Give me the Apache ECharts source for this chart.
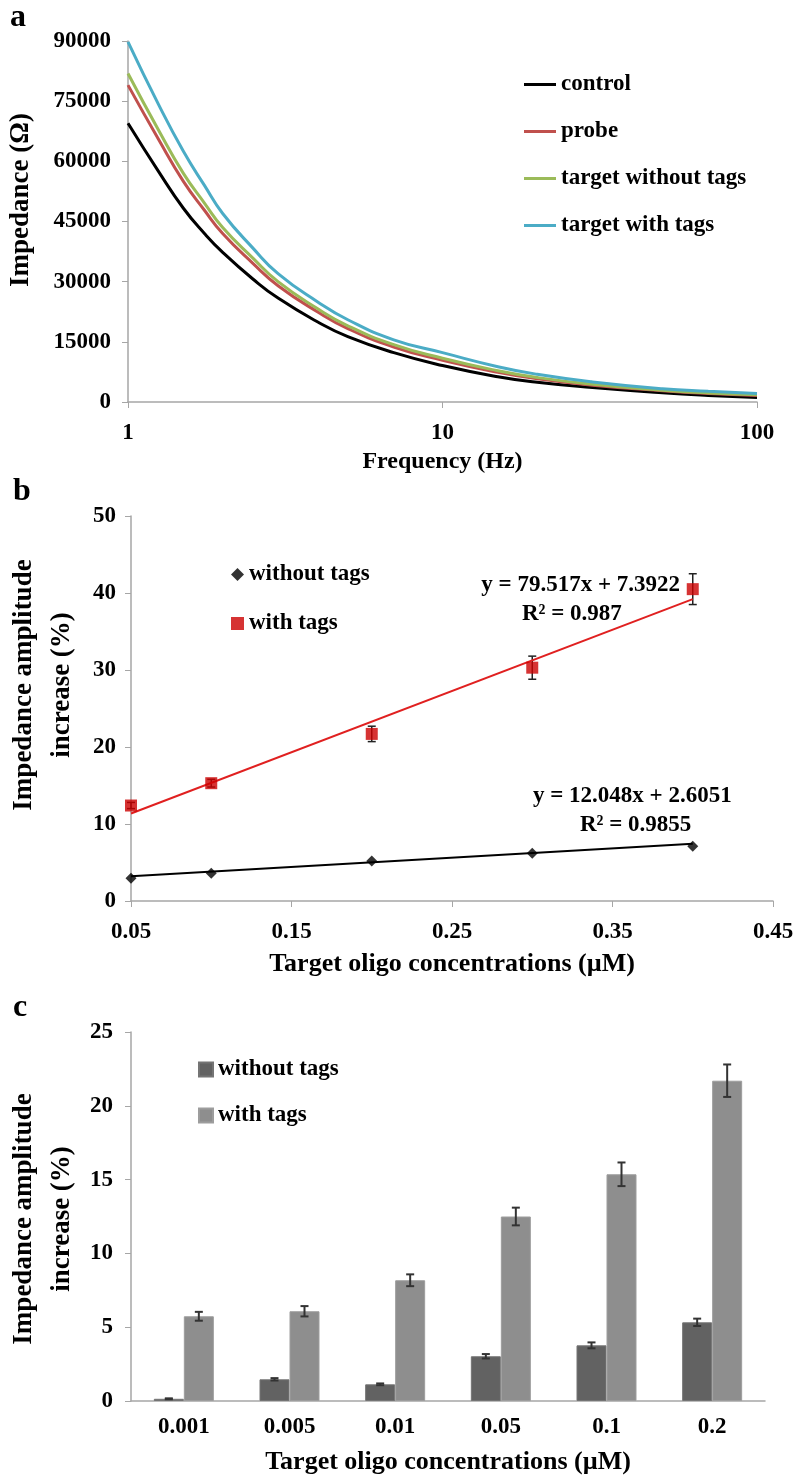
<!DOCTYPE html>
<html>
<head>
<meta charset="UTF-8">
<title>Impedance figure</title>
<style>
html, body { margin: 0; padding: 0; background: #fff; }
#chart { width: 798px; height: 1479px; }
</style>
</head>
<body>
<div id="chart"></div>
<script src="https://cdn.jsdelivr.net/npm/echarts@6/dist/echarts.min.js"></script>
<script>
// ---- panel a : impedance spectra ----
var freq = [1, 1.25, 1.5, 1.75, 2, 2.5, 3, 4, 5, 7, 10, 15, 20, 30, 50, 70, 100];
var control = [69500, 57500, 48300, 42000, 37300, 30600, 25900, 20000, 16300, 12300, 9100, 6300, 4900, 3600, 2300, 1650, 1150];
var probe = [79000, 65500, 55000, 47800, 42000, 34500, 29000, 22500, 18300, 13700, 10400, 7400, 5800, 4200, 2800, 2100, 1600];
var targetNoTags = [81900, 67800, 57000, 49600, 43500, 35800, 30000, 23300, 19000, 14300, 10900, 7800, 6100, 4400, 2950, 2250, 1800];
var targetTags = [89800, 74200, 62500, 54000, 47000, 38300, 32000, 25000, 20500, 15500, 12300, 8800, 6900, 5000, 3300, 2650, 2100];

// ---- panel b : linear response ----
var concB = [0.05, 0.1, 0.2, 0.3, 0.4];
var withTagsB = [12.4, 15.3, 21.7, 30.3, 40.5];
var withTagsErrB = [0.4, 0.5, 1.0, 1.5, 2.0];
var withoutTagsB = [2.95, 3.6, 5.2, 6.2, 7.1];
var trendWith = [[0.05, 11.37], [0.4, 39.2]];
var trendWithout = [[0.05, 3.21], [0.4, 7.42]];

// ---- panel c : bars ----
var concC = ['0.001', '0.005', '0.01', '0.05', '0.1', '0.2'];
var withoutTagsC = [0.15, 1.47, 1.13, 3.03, 3.77, 5.33];
var withoutErrC = [0.03, 0.08, 0.06, 0.15, 0.2, 0.25];
var withTagsC = [5.74, 6.08, 8.18, 12.5, 15.36, 21.7];
var withErrC = [0.3, 0.35, 0.4, 0.6, 0.8, 1.1];

var FONT = 'Liberation Serif';
var axisGray = '#a6a6a6';

function pairs(xs, ys) {
  return xs.map(function (x, i) { return [x, ys[i]]; });
}

var chart = echarts.init(document.getElementById('chart'));

var labelStyle = { color: '#000', fontFamily: FONT, fontWeight: 'bold', fontSize: 23 };
var nameStyle = { color: '#000', fontFamily: FONT, fontWeight: 'bold', fontSize: 26 };

function lineSeries(name, ys, color) {
  return {
    name: name, type: 'line', xAxisIndex: 0, yAxisIndex: 0,
    data: pairs(freq, ys), smooth: true, symbol: 'none',
    lineStyle: { color: color, width: 3 }, itemStyle: { color: color }
  };
}

// error bar drawn at the point (panel b)
function errRenderB(params, api) {
  var x = api.value(0), y = api.value(1), e = api.value(2);
  var hi = api.coord([x, y + e]), lo = api.coord([x, y - e]);
  var st = { stroke: '#222', lineWidth: 1.5 };
  return { type: 'group', children: [
    { type: 'line', shape: { x1: hi[0], y1: hi[1], x2: lo[0], y2: lo[1] }, style: st },
    { type: 'line', shape: { x1: hi[0] - 4, y1: hi[1], x2: hi[0] + 4, y2: hi[1] }, style: st },
    { type: 'line', shape: { x1: lo[0] - 4, y1: lo[1], x2: lo[0] + 4, y2: lo[1] }, style: st }
  ] };
}

// error bar for grouped bars (panel c); side -1 = left bar, +1 = right bar
function errRenderC(side) {
  return function (params, api) {
    var i = api.value(0), y = api.value(1), e = api.value(2);
    var hi = api.coord([i, y + e]), lo = api.coord([i, y - e]);
    var dx = side * 15;
    var st = { stroke: '#333', lineWidth: 2 };
    return { type: 'group', children: [
      { type: 'line', shape: { x1: hi[0] + dx, y1: hi[1], x2: lo[0] + dx, y2: lo[1] }, style: st },
      { type: 'line', shape: { x1: hi[0] + dx - 4, y1: hi[1], x2: hi[0] + dx + 4, y2: hi[1] }, style: st },
      { type: 'line', shape: { x1: lo[0] + dx - 4, y1: lo[1], x2: lo[0] + dx + 4, y2: lo[1] }, style: st }
    ] };
  };
}

function yTitle(x, y, text, size) {
  return {
    type: 'text', x: x, y: y, rotation: Math.PI / 2,
    style: { text: text, font: 'bold ' + size + 'px "Liberation Serif"', fill: '#000',
      align: 'center', verticalAlign: 'middle', lineHeight: 38 }
  };
}

var option = {
  backgroundColor: '#fff',
  animation: false,
  textStyle: { fontFamily: FONT },
  grid: [
    { left: 128, top: 41, width: 629, height: 361, outerBoundsMode: 'none', containLabel: false },
    { left: 131, top: 516, width: 642, height: 385, outerBoundsMode: 'none', containLabel: false },
    { left: 131, top: 1032, width: 634, height: 369, outerBoundsMode: 'none', containLabel: false }
  ],
  xAxis: [
    {
      gridIndex: 0, type: 'log', logBase: 10, min: 1, max: 100,
      name: 'Frequency (Hz)', nameLocation: 'middle', nameGap: 48,
      nameTextStyle: { color: '#000', fontFamily: FONT, fontWeight: 'bold', fontSize: 24 },
      axisLine: { lineStyle: { color: axisGray, width: 1.5 } },
      axisTick: { show: true, length: 6, lineStyle: { color: axisGray } },
      axisLabel: Object.assign({ margin: 20 }, labelStyle),
      splitLine: { show: false }, minorTick: { show: false }
    },
    {
      gridIndex: 1, type: 'value', min: 0.05, max: 0.45, interval: 0.1,
      name: 'Target oligo concentrations (\u00b5M)', nameLocation: 'middle', nameGap: 50,
      nameTextStyle: nameStyle,
      axisLine: { lineStyle: { color: axisGray, width: 1.5 } },
      axisTick: { show: true, length: 6, lineStyle: { color: axisGray } },
      axisLabel: Object.assign({ margin: 20, formatter: function (v) { return v.toFixed(2); } }, labelStyle),
      splitLine: { show: false }
    },
    {
      gridIndex: 2, type: 'category', data: concC,
      name: 'Target oligo concentrations (\u00b5M)', nameLocation: 'middle', nameGap: 48,
      nameTextStyle: nameStyle,
      axisLine: { lineStyle: { color: axisGray, width: 1.5 } },
      axisTick: { show: false },
      axisLabel: Object.assign({ margin: 15 }, labelStyle),
      splitLine: { show: false }
    }
  ],
  yAxis: [
    {
      gridIndex: 0, type: 'value', min: 0, max: 90000, interval: 15000,
      axisLine: { show: true, lineStyle: { color: axisGray, width: 1.5 } },
      axisTick: { show: true, length: 6, lineStyle: { color: axisGray } },
      axisLabel: Object.assign({ margin: 17, formatter: function (v) { return String(v); } }, labelStyle),
      splitLine: { show: false }
    },
    {
      gridIndex: 1, type: 'value', min: 0, max: 50, interval: 10,
      axisLine: { show: true, lineStyle: { color: axisGray, width: 1.5 } },
      axisTick: { show: true, length: 6, lineStyle: { color: axisGray } },
      axisLabel: Object.assign({ margin: 15 }, labelStyle),
      splitLine: { show: false }
    },
    {
      gridIndex: 2, type: 'value', min: 0, max: 25, interval: 5,
      axisLine: { show: true, lineStyle: { color: axisGray, width: 1.5 } },
      axisTick: { show: true, length: 6, lineStyle: { color: axisGray } },
      axisLabel: Object.assign({ margin: 18 }, labelStyle),
      splitLine: { show: false }
    }
  ],
  legend: [
    {
      orient: 'vertical', left: 519, top: 68, itemGap: 24, itemWidth: 32, itemHeight: 3,
      textStyle: Object.assign({ padding: [0, 0, 0, 0] }, labelStyle),
      data: [
        { name: 'control', icon: 'rect' },
        { name: 'probe', icon: 'rect' },
        { name: 'target without tags', icon: 'rect' },
        { name: 'target with tags', icon: 'rect' }
      ]
    },
    {
      orient: 'vertical', left: 226, top: 558, itemGap: 26, itemWidth: 13, itemHeight: 13,
      textStyle: labelStyle, data: ['b without tags', 'b with tags'],
      formatter: function (n) { return n.slice(2); }
    },
    {
      orient: 'vertical', left: 193, top: 1053, itemGap: 23, itemWidth: 14, itemHeight: 14,
      textStyle: labelStyle,
      data: [{ name: 'c without tags', icon: 'rect' }, { name: 'c with tags', icon: 'rect' }],
      formatter: function (n) { return n.slice(2); }
    }
  ],
  graphic: [
    { type: 'text', left: 10, top: 2, style: { text: 'a', font: 'bold 32px "Liberation Serif"', fill: '#000' } },
    { type: 'text', left: 13, top: 476, style: { text: 'b', font: 'bold 32px "Liberation Serif"', fill: '#000' } },
    { type: 'text', left: 13, top: 992, style: { text: 'c', font: 'bold 32px "Liberation Serif"', fill: '#000' } },
    yTitle(21, 200, 'Impedance (\u03a9)', 27),
    yTitle(43, 685, 'Impedance amplitude\nincrease (%)', 27),
    yTitle(43, 1219, 'Impedance amplitude\nincrease (%)', 27),
    { type: 'text', right: 118, top: 574, style: { text: 'y = 79.517x + 7.3922', font: 'bold 23px "Liberation Serif"', fill: '#000' } },
    { type: 'text', left: 522, top: 603, style: { text: 'R\u00b2 = 0.987', font: 'bold 23px "Liberation Serif"', fill: '#000' } },
    { type: 'text', left: 533, top: 785, style: { text: 'y = 12.048x + 2.6051', font: 'bold 23px "Liberation Serif"', fill: '#000' } },
    { type: 'text', left: 580, top: 814, style: { text: 'R\u00b2 = 0.9855', font: 'bold 23px "Liberation Serif"', fill: '#000' } }
  ],
  series: [
    lineSeries('control', control, '#000000'),
    lineSeries('probe', probe, '#c0504d'),
    lineSeries('target without tags', targetNoTags, '#9bbb59'),
    lineSeries('target with tags', targetTags, '#4bacc6'),

    // panel b
    { name: 'trend without', type: 'line', xAxisIndex: 1, yAxisIndex: 1, data: trendWithout,
      symbol: 'none', lineStyle: { color: '#000', width: 2 } },
    { name: 'trend with', type: 'line', xAxisIndex: 1, yAxisIndex: 1, data: trendWith,
      symbol: 'none', lineStyle: { color: '#e02020', width: 2 } },
    { name: 'err b', type: 'custom', xAxisIndex: 1, yAxisIndex: 1, renderItem: errRenderB,
      data: concB.map(function (x, i) { return [x, withTagsB[i], withTagsErrB[i]]; }), z: 3 },
    { name: 'b without tags', type: 'scatter', xAxisIndex: 1, yAxisIndex: 1, data: pairs(concB, withoutTagsB),
      symbol: 'diamond', symbolSize: 11, itemStyle: { color: '#000' }, z: 4 },
    { name: 'b with tags', type: 'scatter', xAxisIndex: 1, yAxisIndex: 1, data: pairs(concB, withTagsB),
      symbol: 'rect', symbolSize: 12, itemStyle: { color: '#cc0000' }, z: 4 },

    // panel c
    { name: 'c without tags', type: 'bar', xAxisIndex: 2, yAxisIndex: 2, data: withoutTagsC,
      barWidth: 30, barGap: '0%', itemStyle: { color: '#626262', borderColor: '#747474', borderWidth: 1 } },
    { name: 'c with tags', type: 'bar', xAxisIndex: 2, yAxisIndex: 2, data: withTagsC,
      barWidth: 30, barGap: '0%', itemStyle: { color: '#8e8e8e', borderColor: '#9d9d9d', borderWidth: 1 } },
    { name: 'err c1', type: 'custom', xAxisIndex: 2, yAxisIndex: 2, renderItem: errRenderC(-1),
      data: withoutTagsC.map(function (v, i) { return [i, v, withoutErrC[i]]; }), z: 5 },
    { name: 'err c2', type: 'custom', xAxisIndex: 2, yAxisIndex: 2, renderItem: errRenderC(1),
      data: withTagsC.map(function (v, i) { return [i, v, withErrC[i]]; }), z: 5 }
  ]
};

chart.setOption(option);
</script>
</body>
</html>
